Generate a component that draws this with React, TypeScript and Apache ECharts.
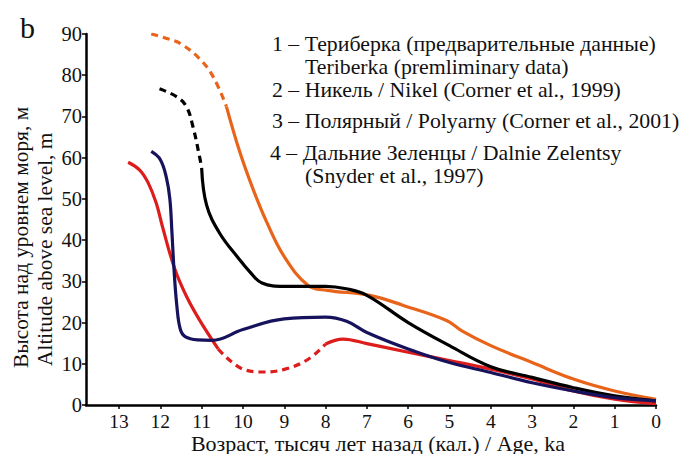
import React, { useEffect, useRef } from "react";
import * as echarts from "echarts";

const FONT = "Times New Roman, Liberation Serif, Tinos, DejaVu Serif, serif";

const xTicks = [13, 12, 11, 10, 9, 8, 7, 6, 5, 4, 3, 2, 1, 0];
const yTicks = [0, 10, 20, 30, 40, 50, 60, 70, 80, 90];

// Curve 1 – Teriberka (navy)
const s1Solid: [number, number][] = [
  [12.22, 61.5], [12.0, 59.5], [11.85, 55], [11.77, 50], [11.72, 42], [11.67, 33],
  [11.6, 24], [11.52, 18.5], [11.4, 16.6], [11.1, 15.8], [10.75, 15.7], [10, 18.3],
  [9, 20.9], [8, 21.3], [7.49, 20.3], [7, 17.6], [6, 13.6], [5, 10.3], [4, 7.9],
  [3, 5.4], [2, 3.4], [1, 1.8], [0, 1],
];

// Curve 2 – Nikel (orange)
const s2Dashed: [number, number][] = [
  [12.22, 90], [11.8, 88.8], [11.5, 87.6], [11.05, 84], [10.72, 79.6], [10.4, 72.4],
];
const s2Solid: [number, number][] = [
  [10.4, 72.4], [10.08, 61.5], [9.76, 52.5], [9.43, 44.5], [9.0, 36], [8.42, 29],
  [7.96, 27.8], [6.93, 26.6], [6.1, 24.1], [5.07, 20.5], [4.7, 18], [4, 14.4],
  [3, 10.3], [2, 6.3], [1, 3.4], [0, 1.4],
];

// Curve 3 – Polyarny (black)
const s3Dashed: [number, number][] = [
  [12.02, 76.7], [11.61, 74.8], [11.37, 72.4], [11.21, 67.5], [11.05, 60.2], [11.0, 57.5],
];
const s3Solid: [number, number][] = [
  [11.0, 57.5], [10.88, 48.5], [10.56, 41.6], [10.1, 35.5], [9.85, 32.5], [9.54, 29.6],
  [9.0, 28.8], [8.0, 28.8], [7.5, 28.2], [7, 26.6], [6, 20], [5, 14.4], [4, 9.3],
  [3, 6.7], [2, 4.2], [1, 2.2], [0, 1],
];

// Curve 4 – Dalnie Zelentsy (red)
const s4SolidA: [number, number][] = [
  [12.78, 58.9], [12.5, 57], [12.3, 54], [12.1, 49], [11.95, 43.3], [11.65, 33],
  [11.35, 26], [11.05, 20.6], [10.6, 13.6],
];
const s4Dashed: [number, number][] = [
  [10.6, 13.6], [10, 8.7], [9.49, 8], [8.98, 8.7], [8.42, 11.1], [8, 14.8],
];
const s4SolidB: [number, number][] = [
  [8, 14.8], [7.58, 16], [7, 14.9], [6, 12.8], [5, 10.8], [4, 8.7], [3, 6.3],
  [2, 3.4], [1, 1.4], [0, 0.3],
];

const seriesNames = ["1", "2", "3", "4"];
const colors = ["#17125c", "#e8641a", "#000000", "#dd1c1c"];

const legendLines = [
  { text: "1 – Териберка (предварительные данные)", x: 272, y: 43.5 },
  { text: "Teriberka (premliminary data)", x: 305, y: 66.5 },
  { text: "2 – Никель / Nikel (Corner et al., 1999)", x: 272, y: 89.5 },
  { text: "3 – Полярный / Polyarny (Corner et al., 2001)", x: 272, y: 121 },
  { text: "4 – Дальние Зеленцы / Dalnie Zelentsy", x: 270, y: 152.5 },
  { text: "(Snyder et al., 1997)", x: 305, y: 176 },
];

const xTitle = "Возраст, тысяч лет назад (кал.) / Age, ka";
const yTitle1 = "Высота над уровнем моря, м";
const yTitle2 = "Altitude above sea level, m";

function withStartLabel(data: [number, number][], label: string, offset: [number, number]) {
  return data.map((d, i) =>
    i === 0
      ? {
          value: d,
          label: {
            show: true,
            formatter: label,
            position: "left",
            distance: 9,
            offset,
            fontFamily: FONT,
            fontSize: 22,
            color: "#111",
          },
        }
      : { value: d }
  );
}

function lineSeries(data: any[], color: string, dashed: boolean) {
  return {
    type: "line",
    data,
    smooth: 0.4,
    symbol: "none",
    showSymbol: false,
    lineStyle: {
      color,
      width: 3.2,
      type: dashed ? [7, 5] : "solid",
      cap: "butt",
    },
    label: { show: false },
    z: 3,
  };
}

export default function App() {
  const ref = useRef<HTMLDivElement>(null);
  useEffect(() => {
    document.body.style.margin = "0";
    if (!ref.current) return;
    const chart = echarts.init(ref.current, undefined, { renderer: "svg" });
    const graphic: any[] = [
      {
        type: "text",
        left: 20,
        top: 12,
        style: { text: "b", fontFamily: FONT, fontSize: 30, fill: "#111" },
      },
      ...legendLines.map((l) => ({
        type: "text",
        x: l.x,
        y: l.y,
        style: {
          text: l.text,
          fontFamily: FONT,
          fontSize: 21.8,
          fill: "#111",
          align: "left",
          verticalAlign: "middle",
        },
      })),
      {
        type: "text",
        x: 378,
        y: 443,
        style: {
          text: xTitle,
          fontFamily: FONT,
          fontSize: 22,
          fill: "#111",
          align: "center",
          verticalAlign: "middle",
        },
      },
      {
        type: "text",
        x: 21,
        y: 368,
        rotation: Math.PI / 2,
        style: {
          text: yTitle1,
          fontFamily: FONT,
          fontSize: 21.4,
          fill: "#111",
          align: "left",
          verticalAlign: "middle",
        },
      },
      {
        type: "text",
        x: 45,
        y: 366,
        rotation: Math.PI / 2,
        style: {
          text: yTitle2,
          fontFamily: FONT,
          fontSize: 21.4,
          fill: "#111",
          align: "left",
          verticalAlign: "middle",
        },
      },
    ];

    chart.setOption({
      animation: false,
      backgroundColor: "#ffffff",
      textStyle: { fontFamily: FONT },
      grid: { left: 86, right: 28, top: 34, bottom: 49, containLabel: false },
      xAxis: {
        type: "value",
        min: 0,
        max: 13.8,
        interval: 1,
        inverse: true,
        axisLine: { show: true, onZero: false, lineStyle: { color: "#000", width: 2.5 } },
        axisTick: { show: true, inside: false, length: 4, lineStyle: { color: "#000", width: 1.5 } },
        splitLine: { show: false },
        axisLabel: {
          showMaxLabel: false,
          margin: 6,
          fontFamily: FONT,
          fontSize: 19.5,
          color: "#111",
          formatter: (v: number) => (xTicks.includes(v) ? String(v) : ""),
        },
      },
      yAxis: {
        type: "value",
        min: 0,
        max: 90,
        interval: 10,
        axisLine: { show: true, onZero: false, lineStyle: { color: "#000", width: 2.5 } },
        axisTick: { show: true, inside: false, length: 4, lineStyle: { color: "#000", width: 1.5 } },
        splitLine: { show: false },
        axisLabel: {
          margin: 4,
          fontFamily: FONT,
          fontSize: 20.5,
          color: "#111",
          formatter: (v: number) => (yTicks.includes(v) ? String(v) : ""),
        },
      },
      series: [
        lineSeries(withStartLabel(s4SolidA, seriesNames[3], [0, 0]), colors[3], false),
        lineSeries(s4Dashed, colors[3], true),
        lineSeries(s4SolidB, colors[3], false),
        lineSeries(withStartLabel(s2Dashed, seriesNames[1], [0, 1]), colors[1], true),
        lineSeries(s2Solid, colors[1], false),
        lineSeries(withStartLabel(s3Dashed, seriesNames[2], [0, 4]), colors[2], true),
        lineSeries(s3Solid, colors[2], false),
        lineSeries(withStartLabel(s1Solid, seriesNames[0], [1, -4]), colors[0], false),
      ],
      graphic,
    });
    return () => chart.dispose();
  }, []);
  return <div ref={ref} style={{ width: 684, height: 454 }} />;
}
